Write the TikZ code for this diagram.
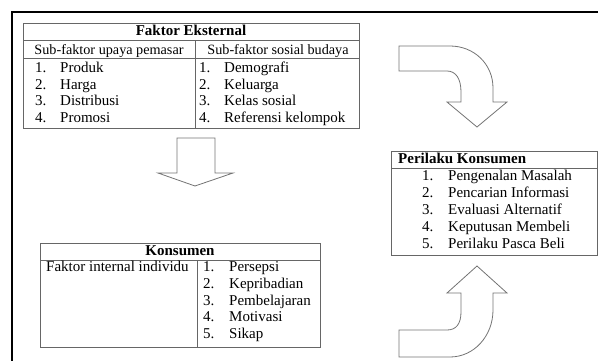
\documentclass[tikz,border=0pt]{standalone}
\usepackage{fontspec}
\setmainfont{Liberation Serif}
\begin{document}
\begin{tikzpicture}[x=1pt,y=-1pt,
  tbl/.style={draw=black!60,line width=0.9pt},
  bigarrow/.style={draw=black!55,line width=0.8pt,line join=miter},
  txt/.style={inner sep=0pt,anchor=base west,font=\fontsize{15}{17}\selectfont},
  subh/.style={inner sep=0pt,anchor=base,font=\fontsize{14.2}{17}\selectfont},
  ttl/.style={inner sep=0pt,anchor=base,font=\fontsize{15}{17}\selectfont\bfseries},
]
\useasboundingbox (0,0) rectangle (598,360);
\clip (0,0) rectangle (598,360);
\draw[line width=2.6pt] (12,370) -- (12,12) -- (610,12);

% Faktor Eksternal
\draw[tbl] (23,23) rectangle (359,128);
\draw[tbl] (23,40) -- (359,40);
\draw[tbl] (23,58) -- (359,58);
\draw[tbl] (195,40) -- (195,128);
\node[ttl] (fe) at (191,35.5) {Faktor Eksternal};
\node[subh] (sfa) at (109,54) {Sub-faktor upaya pemasar};
\node[subh] (sfb) at (278,54) {Sub-faktor sosial budaya};
\foreach \t [count=\i, evaluate=\i as \yy using 72.5+16.7*(\i-1)] in {Produk,Harga,Distribusi,Promosi}{
  \node[txt] (fan\i) at (35,\yy) {\i.};
  \node[txt] (fa\i) at (60,\yy) {\t};
}
\foreach \t [count=\i, evaluate=\i as \yy using 72.5+16.7*(\i-1)] in {Demografi,Keluarga,Kelas sosial,Referensi kelompok}{
  \node[txt] (fbn\i) at (199,\yy) {\i.};
  \node[txt] (fb\i) at (224,\yy) {\t};
}

% down arrow
\draw[bigarrow] (177,138) -- (215,138) -- (215,173) -- (233,173) -- (195,186) -- (158,173) -- (177,173) -- cycle;

% Konsumen
\draw[tbl] (40,243) rectangle (320,347);
\draw[tbl] (40,260) -- (320,260);
\draw[tbl] (197,260) -- (197,347);
\node[ttl] (kn) at (180,255) {Konsumen};
\node[txt] (fi) at (46,271.5) {Faktor internal individu};
\foreach \t [count=\i, evaluate=\i as \yy using 271.5+16.8*(\i-1)] in {Persepsi,Kepribadian,Pembelajaran,Motivasi,Sikap}{
  \node[txt] (kin\i) at (203,\yy) {\i.};
  \node[txt] (ki\i) at (229,\yy) {\t};
}

% Perilaku Konsumen
\draw[tbl] (391,151) rectangle (597,255);
\draw[tbl] (391,168) -- (597,168);
\node[ttl,anchor=base west] (pk) at (398,163) {Perilaku Konsumen};
\foreach \t [count=\i, evaluate=\i as \yy using 180.5+17*(\i-1)] in {Pengenalan Masalah,Pencarian Informasi,Evaluasi Alternatif,Keputusan Membeli,Perilaku Pasca Beli}{
  \node[txt] (pkn\i) at (422,\yy) {\i.};
  \node[txt] (pki\i) at (448,\yy) {\t};
}

% curved arrows
\draw[bigarrow] (399,46) -- (450,46) .. controls (474,46) and (493,64) .. (493,88) -- (493,102) -- (507,102) -- (477,127) -- (447,102) -- (461,102) -- (461,92) .. controls (461,79) and (456,71) .. (447,71) -- (399,71) -- cycle;
\draw[bigarrow] (399,357) -- (450,357) .. controls (474,357) and (493,336) .. (493,310) -- (493,293) -- (507,293) -- (477,266) -- (447,293) -- (461,293) -- (461,312) .. controls (461,324) and (456,330) .. (447,330) -- (399,330) -- cycle;
\end{tikzpicture}
\end{document}
